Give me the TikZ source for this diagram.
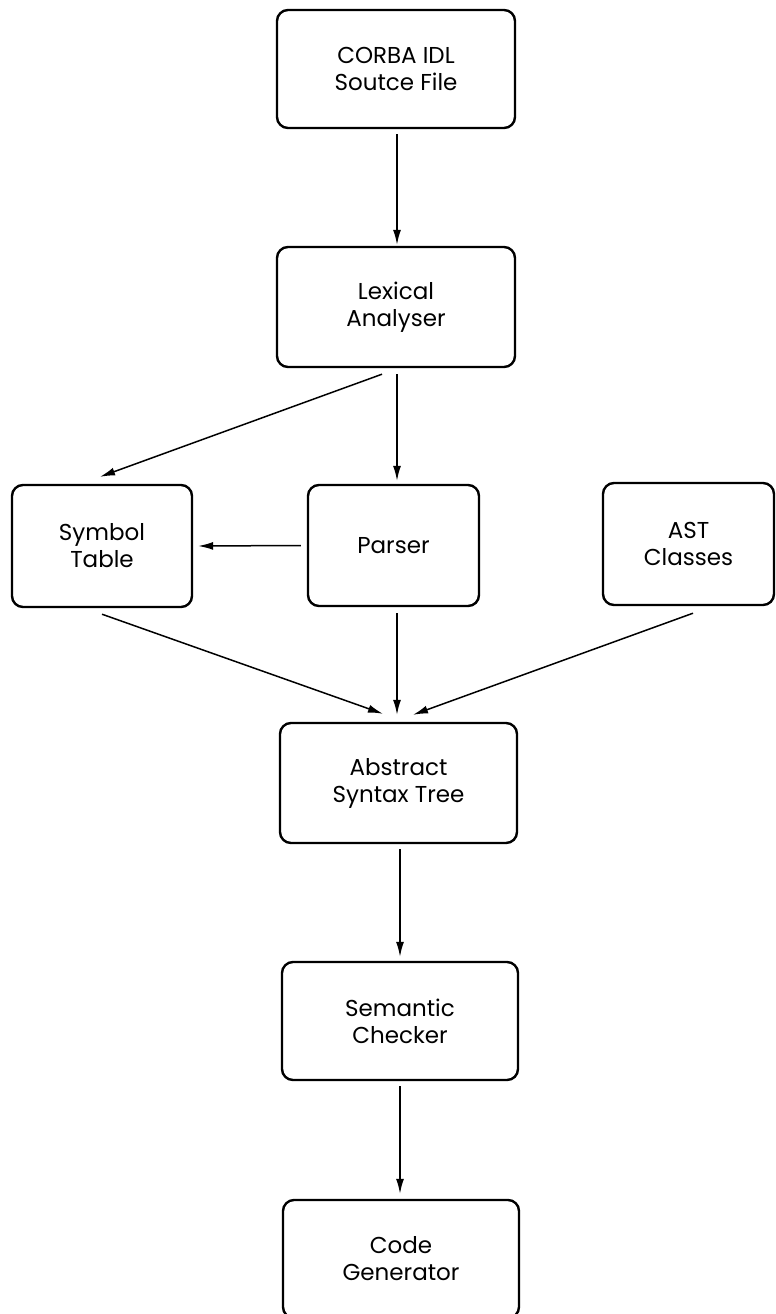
\documentclass[tikz,border=0pt]{standalone}
\usepackage{fontspec}
\setmainfont{Poppins}
\usetikzlibrary{arrows.meta,calc}
\begin{document}
\begin{tikzpicture}[x=1pt,y=-1pt,
  stage/.style={draw, line width=2.4pt, rounded corners=11pt, align=center,
    inner sep=0pt, font=\fontsize{23}{27}\selectfont},
  flow/.style={line width=1.5pt, -{Latex[length=15pt,width=8pt]}}]
\useasboundingbox (0,0) rectangle (776,1314);
\clip (0,0) rectangle (776,1314);

% compiler stages
\node[stage, minimum width=238pt, minimum height=118pt] (src) at (396,69)    {CORBA IDL\\Soutce File};
\node[stage, minimum width=238pt, minimum height=120pt] (lex) at (396,307)   {Lexical\\Analyser};
\node[stage, minimum width=180pt, minimum height=122pt] (sym) at (102,546)   {Symbol\\Table};
\node[stage, minimum width=171pt, minimum height=121pt] (par) at (393.5,545.5) {Parser};
\node[stage, minimum width=171pt, minimum height=122pt] (cls) at (688.5,544) {AST\\Classes};
\node[stage, minimum width=237pt, minimum height=120pt] (ast) at (398.5,783) {Abstract\\Syntax Tree};
\node[stage, minimum width=236pt, minimum height=118pt] (sem) at (400,1021)  {Semantic\\Checker};
\node[stage, minimum width=236pt, minimum height=118pt] (gen) at (401,1259)  {Code\\Generator};

% data flow between stages
\draw[flow] ($(src.south)+(1,5)$) -- ($(lex.north)+(1,-1)$);
\draw[flow] ($(lex.south)+(-14,6)$) -- ($(sym.north)+(-2,-7)$);
\draw[flow] ($(lex.south)+(1,6)$) -- ($(lex.south |- par.north)+(1,-3)$);
\draw[flow] ($(par.west)+(-6,0)$) -- ($(sym.east)+(5,0)$);
\draw[flow] ($(sym.south)+(0,6)$) -- ($(ast.north)+(-15.5,-8)$);
\draw[flow] ($(par.south)+(3.5,6)$) -- ($(ast.north)+(-1.5,-7)$);
\draw[flow] ($(cls.south)+(4.5,7)$) -- ($(ast.north)+(14.5,-7)$);
\draw[flow] ($(ast.south)+(1.5,5)$) -- ($(sem.north)+(0,-4)$);
\draw[flow] ($(sem.south)+(0,5)$) -- ($(gen.north)+(-1,-5)$);
\end{tikzpicture}
\end{document}
